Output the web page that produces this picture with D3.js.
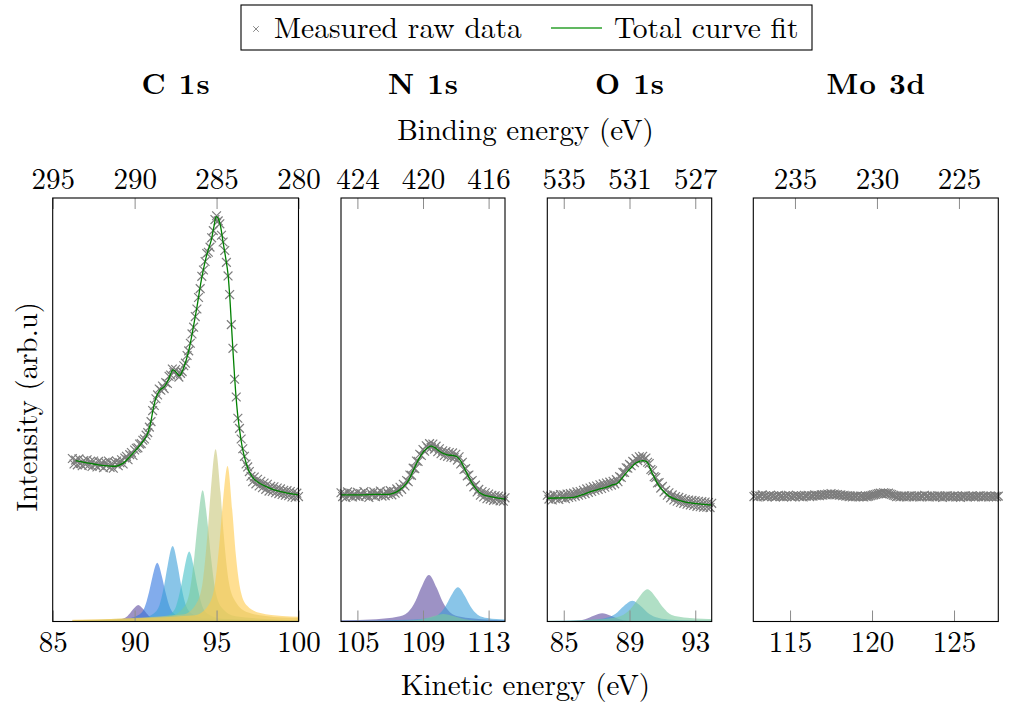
<!DOCTYPE html>
<html>
<head>
<meta charset="utf-8">
<script src="https://cdn.jsdelivr.net/npm/d3@7"></script>
<style>
  body { margin: 0; background: #fff; }
  svg text { font-family: "Latin Modern Roman", "CMU Serif", "Liberation Serif", serif; fill: #000; }
</style>
</head>
<body>
<svg id="chart" width="1009" height="704"></svg>
<script>
// ---- data (kinetic energy in eV, intensity in arb. u.) ----
const panelNames = ["C 1s", "N 1s", "O 1s", "Mo 3d"];
const kineticDomains = [[85, 100], [104, 114], [84, 94], [112.76, 127.7]];
const photonEnergies = [380, 529, 620, 350.3]; // binding = hv - kinetic
const kineticTicks = [[85, 90, 95, 100], [105, 109, 113], [85, 89, 93], [115, 120, 125]];
const bindingTicks = [[295, 290, 285, 280], [424, 420, 416], [535, 531, 527], [235, 230, 225]];

// measured raw data: first energy, step, intensities
const rawStarts = [86.2, 104.0, 84.0, 112.8];
const rawSteps = [0.1, 0.1, 0.1, 0.1];

const c1sRaw = [38.5,37.2,38.1,37.0,38.4,37.3,36.8,38.0,37.1,38.2,
  36.9,37.8,36.6,37.9,37.0,36.5,37.8,36.8,37.5,36.3,
  37.6,36.9,37.9,36.4,37.3,36.2,37.5,37.9,36.8,37.5,
  38.2,37.2,38.6,39.0,38.2,39.4,39.9,39.2,40.5,40.9,
  41.0,41.9,42.0,42.8,43.1,44.0,44.6,45.9,47.2,49.8,
  51.0,52.6,53.5,54.9,54.6,55.6,55.0,56.4,56.2,57.9,
  58.2,59.6,58.8,59.5,58.4,57.7,58.6,59.0,60.4,61.0,
  62.8,63.9,65.7,67.9,69.5,72.0,73.8,76.5,78.6,81.5,
  83.0,85.0,86.9,87.2,88.4,90.6,92.3,94.9,95.8,94.6,
  93.9,91.2,89.6,87.6,84.8,81.6,77.2,70.1,64.5,57.2,
  53.0,48.0,45.6,43.1,40.8,39.0,37.2,36.5,35.4,34.3,
  33.0,34.1,32.5,33.6,32.0,33.1,31.6,32.7,31.2,32.4,
  30.8,31.9,30.7,31.8,30.4,31.5,30.2,31.3,30.0,31.0,
  29.8,30.9,29.7,30.7,29.4,30.5,29.3,30.3,29.5];

const n1sRaw = [30.4,29.5,30.2,29.3,30.6,29.7,30.3,29.4,30.1,29.6,
  30.5,29.5,30.2,29.8,30.7,29.6,30.0,29.3,30.4,29.8,
  30.6,29.5,30.3,29.9,30.8,29.6,30.2,29.7,30.6,30.0,
  30.9,29.9,30.7,30.3,31.3,30.6,31.7,31.2,32.4,32.0,
  33.3,33.0,34.6,34.5,36.2,36.1,37.9,37.8,39.5,39.2,
  40.6,40.2,41.5,41.0,42.0,41.1,41.9,40.7,41.4,40.1,
  40.8,39.6,40.3,39.2,40.1,39.0,39.9,38.8,39.8,38.7,
  39.5,38.1,38.9,37.2,37.6,35.9,36.1,34.4,34.6,33.0,
  33.3,31.8,32.2,30.6,31.2,29.8,30.7,29.4,30.4,29.0,
  30.1,28.9,29.8,28.6,29.7,28.7,29.6,28.5,29.4,28.4,
  29.2];

const o1sRaw = [29.8,28.9,29.6,28.7,29.9,29.0,29.7,28.8,30.0,29.2,
  29.9,29.0,30.1,29.3,30.2,29.4,30.3,29.6,30.6,29.8,
  30.7,30.0,31.0,30.2,31.3,30.5,31.5,30.7,31.8,31.0,
  32.0,31.2,32.3,31.4,32.5,31.7,32.7,32.0,32.9,32.2,
  33.1,32.5,33.5,33.0,34.2,34.0,35.2,35.2,36.3,36.2,
  37.1,36.8,37.8,37.5,38.5,38.0,38.9,38.4,39.0,38.3,
  38.6,37.6,37.3,35.9,35.6,34.2,34.0,32.7,32.8,31.5,
  31.9,30.6,31.0,29.8,30.4,29.2,29.9,28.7,29.5,28.4,
  29.3,28.1,29.0,27.9,28.8,27.7,28.7,27.5,28.6,27.4,
  28.5,27.2,28.4,27.1,28.3,27.0,28.2,27.0,28.1,26.9,
  27.9];

const mo3dRaw = [29.5,29.8,29.4,29.7,29.6,29.9,29.5,29.7,29.4,29.6,
  29.8,29.5,29.7,29.4,29.6,29.8,29.5,29.6,29.4,29.7,
  29.5,29.8,29.6,29.4,29.7,29.5,29.8,29.6,29.5,29.7,
  29.4,29.7,29.6,29.8,29.5,29.7,29.6,29.9,29.7,29.8,
  29.7,29.9,29.8,30.0,29.9,30.1,30.0,30.2,30.0,30.1,
  29.9,30.0,29.8,29.9,29.7,29.8,29.6,29.7,29.5,29.6,
  29.4,29.6,29.5,29.7,29.4,29.6,29.5,29.4,29.6,29.5,
  29.6,29.7,29.8,29.9,30.0,30.1,30.2,30.3,30.2,30.4,
  30.3,30.2,30.3,30.1,30.0,29.8,29.7,29.5,29.6,29.4,
  29.6,29.5,29.7,29.4,29.6,29.5,29.7,29.4,29.6,29.5,
  29.7,29.4,29.6,29.5,29.8,29.5,29.6,29.4,29.7,29.5,
  29.6,29.4,29.7,29.5,29.6,29.3,29.6,29.5,29.7,29.4,
  29.6,29.5,29.7,29.4,29.6,29.5,29.3,29.6,29.5,29.7,
  29.4,29.6,29.5,29.7,29.5,29.4,29.6,29.5,29.7,29.4,
  29.6,29.5,29.7,29.4,29.6,29.5,29.4,29.6,29.5,29.6];

// total curve fit, [energy, intensity]
const c1sFit = [[86.4,38.0],[86.8,37.7],[87.2,37.4],[87.8,37.0],[88.4,36.75],[88.9,36.7],[89.3,37.4],
  [89.7,38.9],[90.1,40.6],[90.5,42.5],[90.75,44.0],[90.95,46.5],[91.15,50.5],[91.32,53.0],[91.55,54.7],
  [91.8,55.4],[92.05,57.0],[92.34,59.4],[92.55,58.8],[92.74,58.0],[92.95,59.5],[93.15,61.75],[93.35,64.8],
  [93.55,68.8],[93.8,74.2],[94.07,80.6],[94.37,86.1],[94.68,90.1],[94.85,93.5],[94.98,95.6],[95.12,95.0],
  [95.25,93.2],[95.38,90.0],[95.55,86.0],[95.69,82.3],[95.8,77.0],[95.9,70.5],[96.0,64.0],[96.1,57.8],
  [96.2,52.5],[96.3,48.4],[96.45,44.0],[96.6,40.5],[96.8,37.5],[97.0,35.3],[97.3,33.6],[97.6,32.7],
  [98.0,31.9],[98.5,31.1],[99.0,30.6],[99.5,30.2],[100.0,29.9]];

const n1sFit = [[104.0,29.9],[105.0,29.9],[106.0,30.0],[107.0,30.1],[107.4,30.6],[107.8,31.8],[108.1,33.2],
  [108.42,35.8],[108.75,38.4],[109.03,40.1],[109.3,41.1],[109.5,41.4],[109.7,41.1],[110.05,40.1],[110.3,39.6],
  [110.56,39.3],[110.85,39.2],[111.07,38.9],[111.3,37.9],[111.47,36.6],[111.7,34.8],[111.88,33.4],[112.1,32.0],
  [112.39,30.65],[112.7,29.9],[113.1,29.5],[113.5,29.2],[114.0,28.9]];

const o1sFit = [[84.0,29.1],[84.8,29.2],[85.6,29.3],[86.1,29.9],[86.63,30.65],[87.1,31.2],[87.65,31.8],
  [88.0,32.3],[88.25,32.6],[88.46,33.4],[88.66,34.4],[88.87,35.4],[89.07,36.2],[89.37,37.35],[89.6,37.8],
  [89.78,38.0],[90.04,37.7],[90.17,37.0],[90.29,35.8],[90.49,34.2],[90.7,32.6],[90.9,31.5],[91.1,30.65],
  [91.4,29.6],[91.91,28.7],[92.4,28.2],[92.93,27.9],[93.5,27.65],[94.0,27.5]];

// fitted components, [energy, intensity]
const c1sComponents = [
  [[86.2,0.04],[88.22,0.16],[89.02,0.39],[89.42,0.86],[89.72,1.95],[89.92,2.93],[90.22,3.9],[90.52,2.93],[90.72,1.95],[91.02,0.86],[91.42,0.39],[92.22,0.16],[100,0.03]],
  [[86.2,0.12],[89.38,0.56],[90.18,1.39],[90.58,3.06],[90.88,6.95],[91.08,10.4],[91.38,13.9],[91.68,10.4],[91.88,6.95],[92.18,3.06],[92.58,1.39],[93.38,0.56],[100,0.08]],
  [[86.2,0.12],[90.32,0.71],[91.12,1.78],[91.52,3.92],[91.82,8.9],[92.02,13.35],[92.32,17.8],[92.62,13.35],[92.82,8.9],[93.12,3.92],[93.52,1.78],[94.32,0.71],[100,0.12]],
  [[86.2,0.1],[91.33,0.66],[92.13,1.65],[92.53,3.63],[92.83,8.25],[93.03,12.4],[93.33,16.5],[93.63,12.4],[93.83,8.25],[94.13,3.63],[94.53,1.65],[95.33,0.66],[100,0.15]],
  [[86.2,0.2],[92.15,1.24],[92.95,3.1],[93.35,6.82],[93.65,15.5],[93.85,23.25],[94.15,31.0],[94.45,23.25],[94.65,15.5],[94.95,6.82],[95.35,3.1],[96.15,1.24],[100,0.3]],
  [[86.2,0.3],[92.94,1.63],[93.74,4.07],[94.14,8.95],[94.44,20.35],[94.64,30.5],[94.94,40.7],[95.24,30.5],[95.44,20.35],[95.74,9.5],[96.14,4.8],[96.94,2.1],[98.0,1.3],[100,0.8]],
  [[86.2,0.4],[93.67,1.47],[94.47,3.67],[94.87,8.07],[95.17,18.35],[95.37,27.5],[95.67,36.7],[95.97,25.7],[96.17,16.0],[96.47,7.2],[96.87,3.7],[97.67,2.0],[99.0,1.3],[100,1.1]]
];
const n1sComponents = [
  [[104.0,0.3],[106.16,0.55],[107.44,1.1],[108.08,2.2],[108.56,4.95],[108.88,7.9],[109.36,11.0],[109.84,7.9],[110.16,4.95],[110.64,2.2],[111.28,1.1],[112.56,0.55],[114.0,0.3]],
  [[104.0,0.15],[108.13,0.4],[109.33,0.81],[109.93,1.62],[110.38,3.65],[110.68,5.83],[111.13,8.1],[111.58,5.83],[111.88,3.65],[112.33,1.62],[112.93,0.81],[114.0,0.45]],
  [[104.0,0.05],[106.25,0.09],[107.85,0.18],[108.65,0.36],[109.25,0.81],[109.65,1.3],[110.25,1.8],[110.85,1.3],[111.25,0.81],[111.85,0.36],[112.65,0.18],[114.0,0.08]]
];
const o1sComponents = [
  [[84.0,0.05],[85.42,0.12],[86.06,0.3],[86.54,0.87],[86.86,1.4],[87.34,1.94],[87.82,1.4],[88.14,0.87],[88.62,0.3],[89.26,0.12],[90.54,0.05],[94.0,0.02]],
  [[84.0,0.1],[85.57,0.25],[87.01,0.49],[87.73,0.98],[88.27,2.2],[88.63,3.53],[89.17,4.9],[89.71,3.53],[90.07,2.2],[90.61,0.98],[91.33,0.49],[92.77,0.25],[94.0,0.15]],
  [[84.0,0.15],[86.39,0.38],[87.87,0.76],[88.61,1.52],[89.16,3.42],[89.54,5.47],[90.09,7.6],[90.64,5.47],[91.02,3.42],[91.57,1.52],[92.31,0.95],[93.79,0.6],[94.0,0.55]]
];

const rawSeries = [c1sRaw, n1sRaw, o1sRaw, mo3dRaw];
const fitSeries = [c1sFit, n1sFit, o1sFit, null];
const componentSeries = [c1sComponents, n1sComponents, o1sComponents, []];

// ---- styles / layout ----
const palette = ["#5b4a9e", "#2f74e0", "#3a9fd8", "#45bfc6", "#7cc99e", "#c8c67a", "#ffc94a"];
const componentColorIdx = [[0, 1, 2, 3, 4, 5, 6], [0, 2, 4], [0, 2, 4], []];
const panelLeft = [52.7, 341, 547.3, 753.3];
const panelRight = [298.5, 505, 711.7, 998.3];
const frameTop = 198, frameBottom = 621.5;
const fontSize = 29;

const svg = d3.select("#chart");

const y = d3.scaleLinear().domain([0, 100]).range([frameBottom, frameTop]);

const crossPath = s => `M${-s},${-s}L${s},${s}M${-s},${s}L${s},${-s}`;

panelNames.forEach((name, i) => {
  const hv = photonEnergies[i];
  const dom = kineticDomains[i];
  const x = d3.scaleLinear().domain(dom).range([panelLeft[i], panelRight[i]]);
  const xTop = d3.scaleLinear().domain([hv - dom[0], hv - dom[1]]).range([panelLeft[i], panelRight[i]]);

  const g = svg.append("g");

  // components
  const area = d3.area()
    .x(d => x(d[0]))
    .y0(y(0))
    .y1(d => y(d[1]))
    .curve(d3.curveMonotoneX);

  g.selectAll("path.comp")
    .data(componentSeries[i])
    .join("path")
    .attr("class", "comp")
    .attr("d", area)
    .attr("fill", (d, k) => palette[componentColorIdx[i][k]])
    .attr("fill-opacity", 0.6);

  // axes
  const bottom = g.append("g")
    .attr("transform", `translate(0,${frameBottom})`)
    .call(d3.axisBottom(x).tickValues(kineticTicks[i]).tickSize(-11).tickPadding(10).tickFormat(d3.format("d")));
  const top = g.append("g")
    .attr("transform", `translate(0,${frameTop})`)
    .call(d3.axisTop(xTop).tickValues(bindingTicks[i]).tickSize(-11).tickPadding(9).tickFormat(d3.format("d")));
  [bottom, top].forEach(ax => {
    ax.attr("font-family", null).attr("font-size", null);
    ax.select(".domain").remove();
    ax.selectAll(".tick line").attr("stroke", "#8c8c8c").attr("stroke-width", 1);
    ax.selectAll(".tick text").attr("fill", "#000").style("font-size", fontSize + "px");
  });

  // raw data crosses
  const raw = rawSeries[i];
  const energies = raw.map((v, k) => rawStarts[i] + k * rawSteps[i]);
  g.selectAll("path.raw")
    .data(raw)
    .join("path")
    .attr("class", "raw")
    .attr("transform", (d, k) => `translate(${x(energies[k])},${y(d)})`)
    .attr("d", crossPath(4.4))
    .attr("fill", "none")
    .attr("stroke", "#7d7d7d")
    .attr("stroke-width", 1.2);

  // total fit
  if (fitSeries[i]) {
    const line = d3.line()
      .x(d => x(d[0]))
      .y(d => y(d[1]))
      .curve(d3.curveCatmullRom.alpha(0.5));
    g.append("path")
      .datum(fitSeries[i])
      .attr("d", line)
      .attr("fill", "none")
      .attr("stroke", "#008000")
      .attr("stroke-width", 1.3);
  }

  // frame
  g.append("rect")
    .attr("x", panelLeft[i])
    .attr("y", frameTop)
    .attr("width", panelRight[i] - panelLeft[i])
    .attr("height", frameBottom - frameTop)
    .attr("fill", "none")
    .attr("stroke", "#000")
    .attr("stroke-width", 1.1);

  // panel title
  svg.append("text")
    .attr("x", (panelLeft[i] + panelRight[i]) / 2 + 0.5)
    .attr("y", 94)
    .attr("text-anchor", "middle")
    .style("font-size", fontSize + "px")
    .style("font-weight", "bold")
    .style("letter-spacing", "1px")
    .text(name);
});

// axis titles
const midX = (panelLeft[0] + panelRight[3]) / 2;
svg.append("text")
  .attr("x", midX).attr("y", 140)
  .attr("text-anchor", "middle")
  .style("font-size", fontSize + "px")
  .text("Binding energy (eV)");
svg.append("text")
  .attr("x", midX).attr("y", 695)
  .attr("text-anchor", "middle")
  .style("font-size", fontSize + "px")
  .text("Kinetic energy (eV)");
svg.append("text")
  .attr("transform", `translate(37,${(frameTop + frameBottom) / 2 - 3}) rotate(-90)`)
  .attr("text-anchor", "middle")
  .style("font-size", fontSize + "px")
  .text("Intensity (arb.u)");

// legend
const legend = svg.append("g");
legend.append("rect")
  .attr("x", 241).attr("y", 5).attr("width", 571).attr("height", 45)
  .attr("fill", "#fff").attr("stroke", "#000").attr("stroke-width", 1.1);
legend.append("path")
  .attr("transform", "translate(256,29)")
  .attr("d", crossPath(2.8))
  .attr("fill", "none").attr("stroke", "#8a8a8a").attr("stroke-width", 1);
legend.append("text")
  .attr("x", 274).attr("y", 38)
  .style("font-size", "29.5px")
  .text("Measured raw data");
legend.append("line")
  .attr("x1", 551).attr("x2", 602).attr("y1", 28).attr("y2", 28)
  .attr("stroke", "#2ca02c").attr("stroke-width", 1.4);
legend.append("text")
  .attr("x", 614).attr("y", 38)
  .style("font-size", "29.5px")
  .text("Total curve fit");
</script>
</body>
</html>
